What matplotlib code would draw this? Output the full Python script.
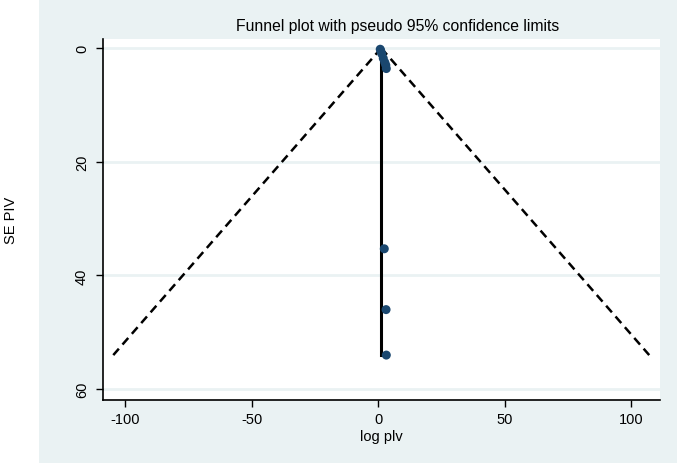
import matplotlib
matplotlib.use("Agg")
import matplotlib.pyplot as plt
from matplotlib.patches import Rectangle
import numpy as np

plt.rcParams['font.family'] = ['Liberation Sans', 'DejaVu Sans']
plt.rcParams['axes.unicode_minus'] = False

# Data
log_plv = [0.8, 1.0, 1.4, 2.0, 2.6, 3.0, 3.2, 2.4, 3.1, 3.2]
se_plv = [0.2, 0.5, 1.0, 1.8, 2.5, 3.0, 3.6, 35.3, 46.0, 54.0]
pooled = 1.2
se_max = 54.0
z = 1.96

xticks = [-100, -50, 0, 50, 100]
yticks = [0, 20, 40, 60]

bg = '#EAF2F3'
navy = '#1A476F'

fig = plt.figure(figsize=(6.77, 4.64), dpi=100, facecolor='white')
fig.patches.append(Rectangle((39/677, 0.5/464), 1 - 39/677, 1, transform=fig.transFigure,
                             facecolor=bg, edgecolor='none', zorder=-10))
ax = fig.add_axes([103/677, 1 - 401/464, (660-103)/677, (401-40)/464])
ax.set_zorder(5)
ax.set_facecolor('white')

se_line = [0, se_max]
ax.plot([pooled - z*s for s in se_line], se_line, color='black', lw=1.8, ls=(0, (3.5, 2.2)))
ax.plot([pooled + z*s for s in se_line], se_line, color='black', lw=1.8, ls=(0, (3.5, 2.2)))
ax.plot([pooled, pooled], se_line, color='black', lw=2.2)
ax.scatter(log_plv, se_plv, s=42, color=navy, zorder=3, edgecolors='none')

ax.set_xlim(-108.7, 111.3)
ax.set_ylim(61.9, -1.6)
ax.set_xticks(xticks)
ax.set_yticks(yticks)
ax.set_yticklabels([str(t) for t in yticks], rotation=90, va='center')
ax.grid(axis='y', color=bg, lw=2)
ax.set_axisbelow(True)
for s in ['top', 'right']:
    ax.spines[s].set_visible(False)
for s in ['left', 'bottom']:
    ax.spines[s].set_linewidth(1.2)
ax.tick_params(axis='both', labelsize=10.5, length=5, width=1, direction='out', color='black')
ax.tick_params(axis='y', pad=5)

fig.text(398/677, 1 - 27/464, 'Funnel plot with pseudo 95% confidence limits',
         fontsize=11.3, ha='center', va='center')
ax.set_xlabel('log plv', fontsize=10.5, labelpad=2)
fig.text(11/677, 1 - 220/464, 'SE PIV', rotation=90, fontsize=10.5, ha='center', va='center')

fig.savefig('out.png', dpi=100, facecolor='white')
